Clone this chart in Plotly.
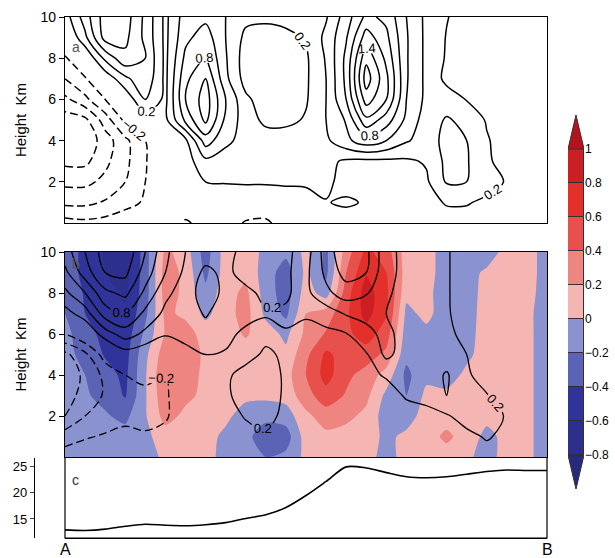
import plotly.graph_objects as go

# ---------------- data ----------------
positions = list(range(25))          # A (0) ... B (24)
heights_km = list(range(11))          # 0 .. 10 km

# panel c: terrain profile along A-B
terrain = [12.9, 12.8, 13.05, 13.6, 14.0, 13.8, 13.7, 13.9, 14.3, 15.1, 15.8, 17.2,
           19.5, 22.2, 25.0, 24.8, 23.9, 23.1, 22.9, 23.1, 23.6, 24.1, 24.4, 24.3, 24.3]

# panel a: contoured field, rows z = 0 .. 10 km, columns A .. B
field_a = [
    [-0.12, -0.15, -0.12, -0.05, 0.00, -0.10, -0.22, -0.15, -0.10, -0.22, -0.24, -0.10, 0.00, 0.05, 0.10, 0.10, 0.00, 0.00, 0.05, 0.10, 0.10, 0.10, 0.10, 0.05, 0.05],
    [-0.45, -0.45, -0.38, -0.28, -0.17, -0.05, -0.10, -0.08, 0.00, -0.05, -0.05, 0.05, 0.12, 0.19, 0.23, 0.18, 0.05, 0.05, 0.12, 0.22, 0.22, 0.15, 0.19, 0.10, 0.05],
    [-0.65, -0.65, -0.55, -0.40, -0.20, 0.00, 0.05, 0.20, 0.22, 0.24, 0.24, 0.24, 0.23, 0.25, 0.12, 0.10, 0.10, 0.12, 0.17, 0.42, 0.40, 0.30, 0.18, 0.10, 0.05],
    [-0.85, -0.85, -0.65, -0.45, -0.22, 0.05, 0.10, 0.35, 0.30, 0.25, 0.25, 0.25, 0.25, 0.25, 0.17, 0.15, 0.16, 0.17, 0.22, 0.45, 0.42, 0.22, 0.15, 0.08, 0.05],
    [-1.00, -0.95, -0.70, -0.45, -0.20, 0.10, 0.15, 0.70, 0.45, 0.32, 0.30, 0.30, 0.30, 0.36, 0.55, 0.72, 0.60, 0.42, 0.32, 0.45, 0.40, 0.22, 0.10, 0.06, 0.05],
    [-0.90, -0.85, -0.50, -0.15, 0.10, 0.15, 0.65, 1.05, 0.55, 0.30, 0.15, 0.15, 0.22, 0.40, 0.62, 1.15, 0.90, 0.55, 0.30, 0.42, 0.35, 0.18, 0.10, 0.05, 0.05],
    [-0.65, -0.45, -0.20, 0.05, 0.40, 0.15, 0.80, 1.10, 0.60, 0.24, 0.10, 0.10, 0.18, 0.40, 0.80, 1.50, 1.20, 0.60, 0.35, 0.30, 0.19, 0.12, 0.08, 0.05, 0.05],
    [-0.40, -0.22, 0.05, 0.35, 0.55, 0.15, 0.75, 1.00, 0.45, 0.12, 0.05, 0.06, 0.17, 0.40, 0.85, 1.70, 1.25, 0.62, 0.35, 0.15, 0.10, 0.08, 0.06, 0.05, 0.05],
    [-0.22, 0.00, 0.45, 0.75, 0.60, 0.15, 0.65, 0.82, 0.42, 0.10, 0.08, 0.08, 0.17, 0.42, 0.85, 1.55, 1.15, 0.62, 0.35, 0.18, 0.10, 0.08, 0.06, 0.05, 0.05],
    [-0.05, 0.35, 0.88, 0.85, 0.55, 0.15, 0.55, 0.70, 0.40, 0.15, 0.12, 0.15, 0.22, 0.45, 0.78, 1.30, 1.05, 0.62, 0.35, 0.19, 0.12, 0.08, 0.06, 0.05, 0.05],
    [0.10, 0.50, 0.90, 0.90, 0.55, 0.15, 0.50, 0.55, 0.40, 0.25, 0.24, 0.26, 0.22, 0.38, 0.70, 1.05, 0.95, 0.60, 0.35, 0.21, 0.12, 0.08, 0.06, 0.05, 0.05],
]

# panel b: shaded field, rows z = 0 .. 10 km
shade_b = [
    [-0.10, -0.10, -0.10, -0.10, -0.10, 0.05, 0.05, 0.05, -0.05, -0.10, -0.20, -0.15, 0.05, 0.10, 0.10, 0.05, -0.05, 0.05, 0.05, 0.10, 0.05, -0.10, 0.10, 0.05, -0.10],
    [-0.10, -0.12, -0.12, -0.12, -0.05, 0.10, 0.10, 0.08, -0.05, -0.15, -0.30, -0.30, 0.10, 0.15, 0.12, 0.10, -0.05, 0.05, 0.10, 0.25, 0.10, -0.05, 0.05, 0.05, -0.10],
    [-0.12, -0.15, -0.18, -0.25, -0.02, 0.28, 0.15, 0.10, 0.05, -0.10, -0.15, -0.10, 0.15, 0.30, 0.25, 0.15, -0.10, -0.10, 0.10, 0.10, 0.10, 0.05, 0.05, 0.05, -0.10],
    [-0.15, -0.18, -0.25, -0.42, -0.02, 0.35, 0.25, 0.15, 0.10, 0.05, 0.05, 0.08, 0.32, 0.52, 0.38, 0.25, -0.05, -0.20, 0.05, 0.05, 0.10, 0.10, 0.10, 0.05, -0.10],
    [-0.15, -0.20, -0.32, -0.45, -0.02, 0.38, 0.30, 0.15, 0.10, 0.10, 0.10, 0.12, 0.40, 0.68, 0.45, 0.32, 0.12, -0.25, -0.05, -0.10, 0.05, 0.10, 0.12, 0.05, -0.10],
    [-0.15, -0.25, -0.42, -0.48, -0.05, 0.32, 0.35, 0.15, 0.10, 0.12, 0.10, 0.05, 0.35, 0.64, 0.52, 0.50, 0.35, -0.15, -0.10, -0.10, -0.05, 0.10, 0.12, 0.05, -0.10],
    [-0.15, -0.30, -0.48, -0.52, -0.15, 0.22, 0.30, 0.10, 0.12, 0.22, 0.10, -0.05, 0.25, 0.42, 0.55, 0.70, 0.50, -0.10, -0.05, -0.10, -0.08, 0.10, 0.12, 0.05, -0.10],
    [-0.20, -0.40, -0.52, -0.58, -0.25, 0.25, 0.15, -0.05, 0.12, 0.28, -0.05, -0.25, 0.20, 0.30, 0.55, 0.88, 0.62, -0.05, 0.05, -0.10, -0.10, 0.10, 0.12, 0.05, -0.10],
    [-0.25, -0.42, -0.55, -0.62, -0.30, 0.30, 0.15, -0.15, 0.12, 0.25, -0.10, -0.30, 0.10, -0.10, 0.50, 0.90, 0.65, 0.05, 0.05, -0.10, -0.10, 0.08, 0.10, 0.08, -0.10],
    [-0.30, -0.45, -0.60, -0.68, -0.30, 0.30, 0.15, -0.25, 0.10, 0.15, -0.10, -0.30, 0.05, -0.25, 0.40, 0.78, 0.60, 0.10, 0.08, -0.10, -0.10, 0.05, 0.10, 0.10, -0.10],
    [-0.30, -0.45, -0.62, -0.70, -0.30, 0.25, 0.10, -0.30, 0.10, 0.10, -0.05, -0.15, 0.05, -0.25, 0.30, 0.65, 0.50, 0.10, 0.08, -0.10, -0.10, -0.15, 0.10, 0.10, -0.10],
]

# panel b: contoured field, rows z = 0 .. 10 km
lines_b = [
    [-0.10, -0.08, -0.05, -0.05, -0.05, -0.05, -0.02, 0.00, 0.02, 0.05, 0.05, 0.05, 0.05, 0.05, 0.05, 0.05, 0.05, 0.05, 0.05, 0.08, 0.10, 0.12, 0.10, 0.02, 0.00],
    [-0.30, -0.22, -0.18, -0.15, -0.18, -0.15, -0.08, 0.00, 0.05, 0.12, 0.15, 0.08, 0.05, 0.05, 0.05, 0.05, 0.05, 0.08, 0.10, 0.12, 0.15, 0.22, 0.15, 0.02, 0.00],
    [-0.60, -0.40, -0.30, -0.25, -0.25, -0.22, -0.10, 0.00, 0.10, 0.22, 0.30, 0.12, 0.05, 0.05, 0.05, 0.05, 0.08, 0.12, 0.15, 0.18, 0.28, 0.30, 0.18, 0.02, 0.00],
    [-0.72, -0.50, -0.38, -0.30, -0.25, -0.22, -0.10, 0.05, 0.15, 0.32, 0.35, 0.15, 0.05, 0.05, 0.05, 0.08, 0.12, 0.22, 0.25, 0.40, 0.30, 0.22, 0.02, 0.00, 0.00],
    [-0.75, -0.55, -0.35, -0.20, -0.15, -0.20, -0.05, 0.10, 0.15, 0.30, 0.35, 0.15, 0.05, 0.05, 0.08, 0.15, 0.22, 0.25, 0.30, 0.42, 0.25, 0.05, 0.02, 0.00, 0.00],
    [-0.65, -0.45, -0.10, 0.10, 0.05, 0.00, 0.15, 0.20, 0.18, 0.10, 0.25, 0.15, 0.10, 0.10, 0.12, 0.18, 0.45, 0.30, 0.30, 0.30, 0.20, 0.05, 0.02, 0.00, 0.00],
    [-0.20, 0.00, 0.30, 0.50, 0.35, 0.22, 0.25, 0.28, 0.26, 0.15, 0.12, 0.18, 0.15, 0.15, 0.19, 0.35, 0.45, 0.32, 0.30, 0.24, 0.15, 0.05, 0.02, 0.00, 0.00],
    [0.12, 0.30, 0.70, 0.80, 0.55, 0.35, 0.30, 0.18, 0.30, 0.28, 0.22, 0.25, 0.22, 0.30, 0.42, 0.45, 0.40, 0.35, 0.30, 0.22, 0.12, 0.05, 0.02, 0.00, 0.00],
    [0.35, 0.60, 0.95, 1.05, 0.75, 0.45, 0.30, 0.10, 0.25, 0.25, 0.15, 0.15, 0.35, 0.55, 0.70, 0.62, 0.42, 0.35, 0.30, 0.22, 0.10, 0.05, 0.02, 0.00, 0.00],
    [0.55, 0.90, 1.20, 1.25, 0.90, 0.60, 0.35, 0.15, 0.25, 0.12, 0.08, 0.15, 0.35, 0.65, 0.88, 0.80, 0.45, 0.35, 0.30, 0.22, 0.10, 0.05, 0.02, 0.00, 0.00],
    [0.70, 1.00, 1.30, 1.35, 1.00, 0.65, 0.40, 0.30, 0.25, 0.15, 0.10, 0.15, 0.30, 0.70, 0.95, 0.85, 0.45, 0.35, 0.30, 0.22, 0.10, 0.05, 0.02, 0.00, 0.00],
]

levels = [-0.8, -0.6, -0.4, -0.2, 0.0, 0.2, 0.4, 0.6, 0.8, 1.0]
level_labels = ["\u22120.8", "\u22120.6", "\u22120.4", "\u22120.2", "0", "0.2", "0.4", "0.6", "0.8", "1"]
band_colors = ["#262a7c", "#2c2f8c", "#30339a", "#5a63b4", "#8a92d0",
               "#f5b5b2", "#ef8580", "#e8514b", "#e4302b", "#cc1f24", "#b3141c"]

height_ticks = [2, 4, 6, 8, 10]
terrain_ticks = [15, 20, 25]
end_labels = ["A", "B"]

# ---------------- figure ----------------
W, H = 615, 558
FONT = "Liberation Sans, Arial, sans-serif"
DASH = "8px,4px"


def xdom(left, right):
    return [left / W, right / W]


def ydom(top, bottom):
    return [1 - bottom / H, 1 - top / H]


fig = go.Figure()

step = levels[1] - levels[0]
fig.add_trace(go.Contour(
    x=positions, y=heights_km, z=shade_b, xaxis="x2", yaxis="y2",
    autocontour=False,
    contours=dict(start=levels[0], end=levels[-1], size=step, coloring="fill"),
    colorscale=[[i / (len(band_colors) - 1), c] for i, c in enumerate(band_colors)],
    line=dict(width=0, smoothing=0.7), showscale=False, hoverinfo="skip"))


def contour_lines(z, xa, ya, start, end, size, dash, labels, width=1.5):
    return go.Contour(
        x=positions, y=heights_km, z=z, xaxis=xa, yaxis=ya,
        autocontour=False,
        contours=dict(start=start, end=end, size=size, coloring="none",
                      showlabels=labels, labelformat=".1f",
                      labelfont=dict(size=13, color="black", family=FONT)),
        line=dict(color="black", width=width, dash=dash, smoothing=1.0),
        showscale=False, hoverinfo="skip")


# panel a lines
fig.add_trace(contour_lines(field_a, "x", "y", 0.2, 1.4, 0.6, "solid", True))
fig.add_trace(contour_lines(field_a, "x", "y", 0.4, 1.6, 0.6, "solid", False))
fig.add_trace(contour_lines(field_a, "x", "y", 0.6, 1.2, 0.6, "solid", False))
fig.add_trace(contour_lines(field_a, "x", "y", -0.8, -0.2, 0.6, DASH, True))
fig.add_trace(contour_lines(field_a, "x", "y", -0.6, -0.4, 0.2, DASH, False))

# panel b lines
fig.add_trace(contour_lines(lines_b, "x2", "y2", 0.2, 1.4, 0.6, "solid", True, 1.3))
fig.add_trace(contour_lines(lines_b, "x2", "y2", 0.4, 1.0, 0.6, "solid", False, 1.3))
fig.add_trace(contour_lines(lines_b, "x2", "y2", 0.6, 1.2, 0.6, "solid", False, 1.3))
fig.add_trace(contour_lines(lines_b, "x2", "y2", -0.6, -0.2, 0.4, DASH, True, 1.3))
fig.add_trace(contour_lines(lines_b, "x2", "y2", -0.4, -0.3, 0.2, DASH, False, 1.3))

# panel c terrain
fig.add_trace(go.Scatter(x=positions, y=terrain, xaxis="x3", yaxis="y3", mode="lines",
                         line=dict(color="black", width=1.6, shape="spline", smoothing=0.8),
                         hoverinfo="skip", showlegend=False))

# colour bar built from the levels
fig.add_trace(go.Bar(
    x=[0] * (len(levels) - 1), y=[levels[i + 1] - levels[i] for i in range(len(levels) - 1)],
    base=levels[:-1], width=1, xaxis="x4", yaxis="y4",
    marker=dict(color=band_colors[1:-1], line=dict(color="#3a2a3a", width=1)),
    hoverinfo="skip", showlegend=False))
fig.add_trace(go.Scatter(
    x=[-0.5, 0, 0.5, -0.5], y=[levels[-1], levels[-1] + step, levels[-1], levels[-1]],
    xaxis="x4", yaxis="y4", fill="toself", fillcolor=band_colors[-1], mode="lines",
    line=dict(color="#3a2a3a", width=1), hoverinfo="skip", showlegend=False))
fig.add_trace(go.Scatter(
    x=[-0.5, 0, 0.5, -0.5], y=[levels[0], levels[0] - step, levels[0], levels[0]],
    xaxis="x4", yaxis="y4", fill="toself", fillcolor=band_colors[0], mode="lines",
    line=dict(color="#3a2a3a", width=1), hoverinfo="skip", showlegend=False))

frame = dict(showline=True, linecolor="black", linewidth=1.2, mirror=True,
             showgrid=False, zeroline=False, automargin=False)
plain_x = dict(frame, range=[0, 24], ticks="", showticklabels=False)
height_y = dict(frame, range=[0, 10], tickvals=height_ticks, ticks="outside", ticklen=5,
                tickcolor="black", tickfont=dict(size=14, family=FONT, color="black"),
                title=dict(text="Height  Km", font=dict(size=15, family=FONT, color="black"),
                           standoff=10))

fig.update_layout(
    width=W, height=H, margin=dict(l=0, r=0, t=0, b=0, autoexpand=False),
    paper_bgcolor="white", plot_bgcolor="white", showlegend=False,
    font=dict(family=FONT, color="black"),
    xaxis=dict(plain_x, domain=xdom(65, 547), anchor="y"),
    yaxis=dict(height_y, domain=ydom(17, 223), anchor="x"),
    xaxis2=dict(plain_x, domain=xdom(65, 547), anchor="y2"),
    yaxis2=dict(height_y, domain=ydom(252, 457), anchor="x2"),
    xaxis3=dict(range=[0, 24], domain=xdom(65, 547), anchor="y3", showline=True,
                linecolor="black", linewidth=1.2, mirror=True, showgrid=False, zeroline=False,
                showticklabels=False, ticks="", automargin=False),
    yaxis3=dict(range=[11.35, 26.8], domain=ydom(457.5, 538), anchor="free",
                position=34 / W, showline=True, linecolor="black", linewidth=1.2,
                showgrid=False, zeroline=False, tickvals=terrain_ticks, ticks="outside",
                ticklen=4, tickfont=dict(size=13, family=FONT), automargin=False),
    xaxis4=dict(range=[-0.5, 0.5], domain=xdom(568, 584), anchor="y4", visible=False,
                automargin=False),
    yaxis4=dict(range=[levels[0] - step, levels[-1] + step], domain=ydom(115, 489),
                anchor="x4", side="right", showgrid=False, zeroline=False, showline=False,
                tickvals=levels, ticktext=level_labels, ticks="", automargin=False,
                tickfont=dict(size=12, family=FONT)),
    bargap=0,
    shapes=[dict(type="rect", xref="x3 domain", yref="y3 domain", x0=0, x1=1, y0=0, y1=1,
                 line=dict(color="black", width=1.2))],
    annotations=[
        dict(text="a", xref="x domain", yref="y domain", x=0.01, y=0.855, showarrow=False,
             xanchor="left", yanchor="middle", font=dict(size=14, color="#555555")),
        dict(text="b", xref="x2 domain", yref="y2 domain", x=0.01, y=0.99, showarrow=False,
             xanchor="left", yanchor="top", font=dict(size=14, color="#555555")),
        dict(text="c", xref="x3 domain", yref="y3 domain", x=0.01, y=0.85, showarrow=False,
             xanchor="left", yanchor="top", font=dict(size=14, color="#333333")),
        dict(text=end_labels[0], xref="x3 domain", yref="paper", x=0, y=1 - 549 / H,
             showarrow=False, xanchor="center", yanchor="middle",
             font=dict(size=16, family=FONT, color="black")),
        dict(text=end_labels[1], xref="x3 domain", yref="paper", x=1, y=1 - 549 / H,
             showarrow=False, xanchor="center", yanchor="middle",
             font=dict(size=16, family=FONT, color="black")),
    ],
)

fig.write_html("out.html", config={"displayModeBar": False},
               post_script="document.body.style.margin='0';document.body.style.overflow='hidden';")
